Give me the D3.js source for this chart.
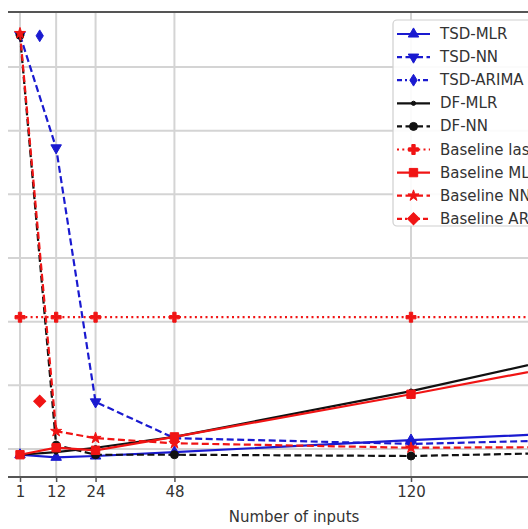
<!DOCTYPE html>
<html><head><meta charset="utf-8">
<script src="https://cdn.jsdelivr.net/npm/d3@7"></script>
<style>body{margin:0;background:#fff}svg{display:block;overflow:hidden}</style>
</head><body><svg id="c" width="528" height="529"></svg>
<script>
// ---- data ----
const inputs = [1, 12, 24, 48, 120, 168];
const arimaInput = [7];
const xTicks = [1, 12, 24, 48, 120];
const yGrid = [0, 1, 2, 3, 4, 5, 6];

const tsdMLR = [-0.09, -0.13, -0.11, -0.05, 0.14, 0.25];
const tsdNN = [6.50, 4.73, 0.74, 0.17, 0.08, 0.14];
const tsdARIMA = [6.49];
const dfMLR = [-0.09, -0.05, 0.02, 0.19, 0.91, 1.46];
const dfNN = [6.50, 0.06, -0.09, -0.09, -0.11, -0.06];
const baseLast = [2.07, 2.07, 2.07, 2.07, 2.07, 2.07];
const baseMLR = [-0.09, 0.02, -0.02, 0.19, 0.86, 1.33];
const baseNN = [6.53, 0.28, 0.17, 0.09, 0.02, 0.03];
const baseARIMA = [0.75];

const seriesNames = ["TSD-MLR", "TSD-NN", "TSD-ARIMA", "DF-MLR", "DF-NN",
  "Baseline last", "Baseline MLR", "Baseline NN", "Baseline ARIMA"];

const BLUE = "#1a1ad0", RED = "#f01414", BLACK = "#111";
const DASH = "7,3.5", DOT = "2,3.3", DASHDOT = "10,3,2,3";

const series = [
  {name: seriesNames[0], x: inputs, y: tsdMLR, color: BLUE, dash: null, marker: "triUp"},
  {name: seriesNames[1], x: inputs, y: tsdNN, color: BLUE, dash: DASH, marker: "triDown"},
  {name: seriesNames[2], x: arimaInput, y: tsdARIMA, color: BLUE, dash: DASHDOT, marker: "thinDiamond"},
  {name: seriesNames[3], x: inputs, y: dfMLR, color: BLACK, dash: null, marker: "point"},
  {name: seriesNames[4], x: inputs, y: dfNN, color: BLACK, dash: DASH, marker: "circle"},
  {name: seriesNames[5], x: inputs, y: baseLast, color: RED, dash: DOT, marker: "plus"},
  {name: seriesNames[6], x: inputs, y: baseMLR, color: RED, dash: null, marker: "square"},
  {name: seriesNames[7], x: inputs, y: baseNN, color: RED, dash: DASH, marker: "star"},
  {name: seriesNames[8], x: arimaInput, y: baseARIMA, color: RED, dash: DASHDOT, marker: "diamond"}
];

// ---- layout ----
const svg = d3.select("#c");
const W = 528;
const axLeft = 8, axTop = 12, axBottom = 477;
const x = d3.scaleLinear().domain([1, 120]).range([20, 411]);
const y = d3.scaleLinear().domain([0, 6]).range([449, 67]);

const FONT = "DejaVu Sans, sans-serif";

// grid
const g = svg.append("g");
g.selectAll(".hg").data(yGrid).enter().append("line")
  .attr("x1", axLeft).attr("x2", W).attr("y1", d => y(d)).attr("y2", d => y(d))
  .attr("stroke", "#d4d4d4").attr("stroke-width", 2);
g.selectAll(".vg").data(xTicks).enter().append("line")
  .attr("x1", d => x(d)).attr("x2", d => x(d)).attr("y1", axTop).attr("y2", axBottom)
  .attr("stroke", "#d4d4d4").attr("stroke-width", 2);

// x axis
const xAxis = d3.axisBottom(x).tickValues(xTicks).tickSize(5).tickPadding(4).tickFormat(d3.format("d"));
const ax = svg.append("g").attr("transform", `translate(0,${axBottom})`).call(xAxis);
ax.select(".domain").remove();
ax.selectAll("line").attr("stroke", "#555").attr("stroke-width", 1.5);
ax.selectAll("text").attr("font-family", FONT).attr("font-size", 15).attr("fill", "#333");

// spines
svg.append("line").attr("x1", axLeft).attr("x2", W).attr("y1", axTop).attr("y2", axTop)
  .attr("stroke", "#555").attr("stroke-width", 2);
svg.append("line").attr("x1", axLeft).attr("x2", W).attr("y1", axBottom).attr("y2", axBottom)
  .attr("stroke", "#555").attr("stroke-width", 2);

svg.append("text").attr("x", 294).attr("y", 522).attr("text-anchor", "middle")
  .attr("font-family", FONT).attr("font-size", 15).attr("fill", "#333")
  .text("Number of inputs");

// markers
function markerPath(type) {
  switch (type) {
    case "triUp": return d3.symbol(d3.symbolTriangle, 48)();
    case "triDown": return d3.symbol(d3.symbolTriangle, 48)();
    case "thinDiamond": return d3.symbol(d3.symbolSquare, 70)();
    case "point": return d3.symbol(d3.symbolCircle, 14)();
    case "circle": return d3.symbol(d3.symbolCircle, 50)();
    case "plus": return d3.symbol(d3.symbolCross, 55)();
    case "square": return d3.symbol(d3.symbolSquare, 70)();
    case "star": return d3.symbol(d3.symbolStar, 38)();
    case "diamond": return d3.symbol(d3.symbolSquare, 72)();
  }
}
function markerTransform(type, px, py) {
  let t = `translate(${px},${py})`;
  if (type === "triDown") t += " rotate(180)";
  if (type === "thinDiamond") t += " scale(0.62,1) rotate(45)";
  if (type === "diamond") t += " rotate(45)";
  return t;
}

const line = d3.line().x(d => x(d[0])).y(d => y(d[1]));
const plot = svg.append("g");
series.forEach(s => {
  const pts = s.x.map((v, i) => [v, s.y[i]]);
  const p = plot.append("path").datum(pts).attr("d", line)
    .attr("fill", "none").attr("stroke", s.color).attr("stroke-width", 2.2);
  if (s.dash) p.attr("stroke-dasharray", s.dash);
  plot.selectAll(null).data(pts).enter().append("path")
    .attr("d", markerPath(s.marker))
    .attr("transform", d => markerTransform(s.marker, x(d[0]), y(d[1])))
    .attr("fill", s.color).attr("stroke", s.color).attr("stroke-width", 1);
});

// legend
const lg = svg.append("g");
lg.append("rect").attr("x", 393).attr("y", 20).attr("width", 200).attr("height", 206).attr("rx", 4)
  .attr("fill", "#fff").attr("fill-opacity", 0.9).attr("stroke", "#cfcfcf").attr("stroke-width", 1.2);
series.forEach((s, i) => {
  const cy = 34 + i * 23.1;
  const l = lg.append("line").attr("x1", 397).attr("x2", 430).attr("y1", cy).attr("y2", cy)
    .attr("stroke", s.color).attr("stroke-width", 2.2);
  if (s.dash) l.attr("stroke-dasharray", s.dash === DASHDOT ? "5,3,2,3" : s.dash).attr("stroke-dashoffset", s.dash === DASH ? 2 : 0);
  lg.append("path").attr("d", markerPath(s.marker))
    .attr("transform", markerTransform(s.marker, 413.5, cy))
    .attr("fill", s.color).attr("stroke", s.color).attr("stroke-width", 1);
  lg.append("text").attr("x", 440).attr("y", cy + 5)
    .attr("font-family", FONT).attr("font-size", 15).attr("fill", "#333")
    .text(s.name);
});
</script>
</body></html>
